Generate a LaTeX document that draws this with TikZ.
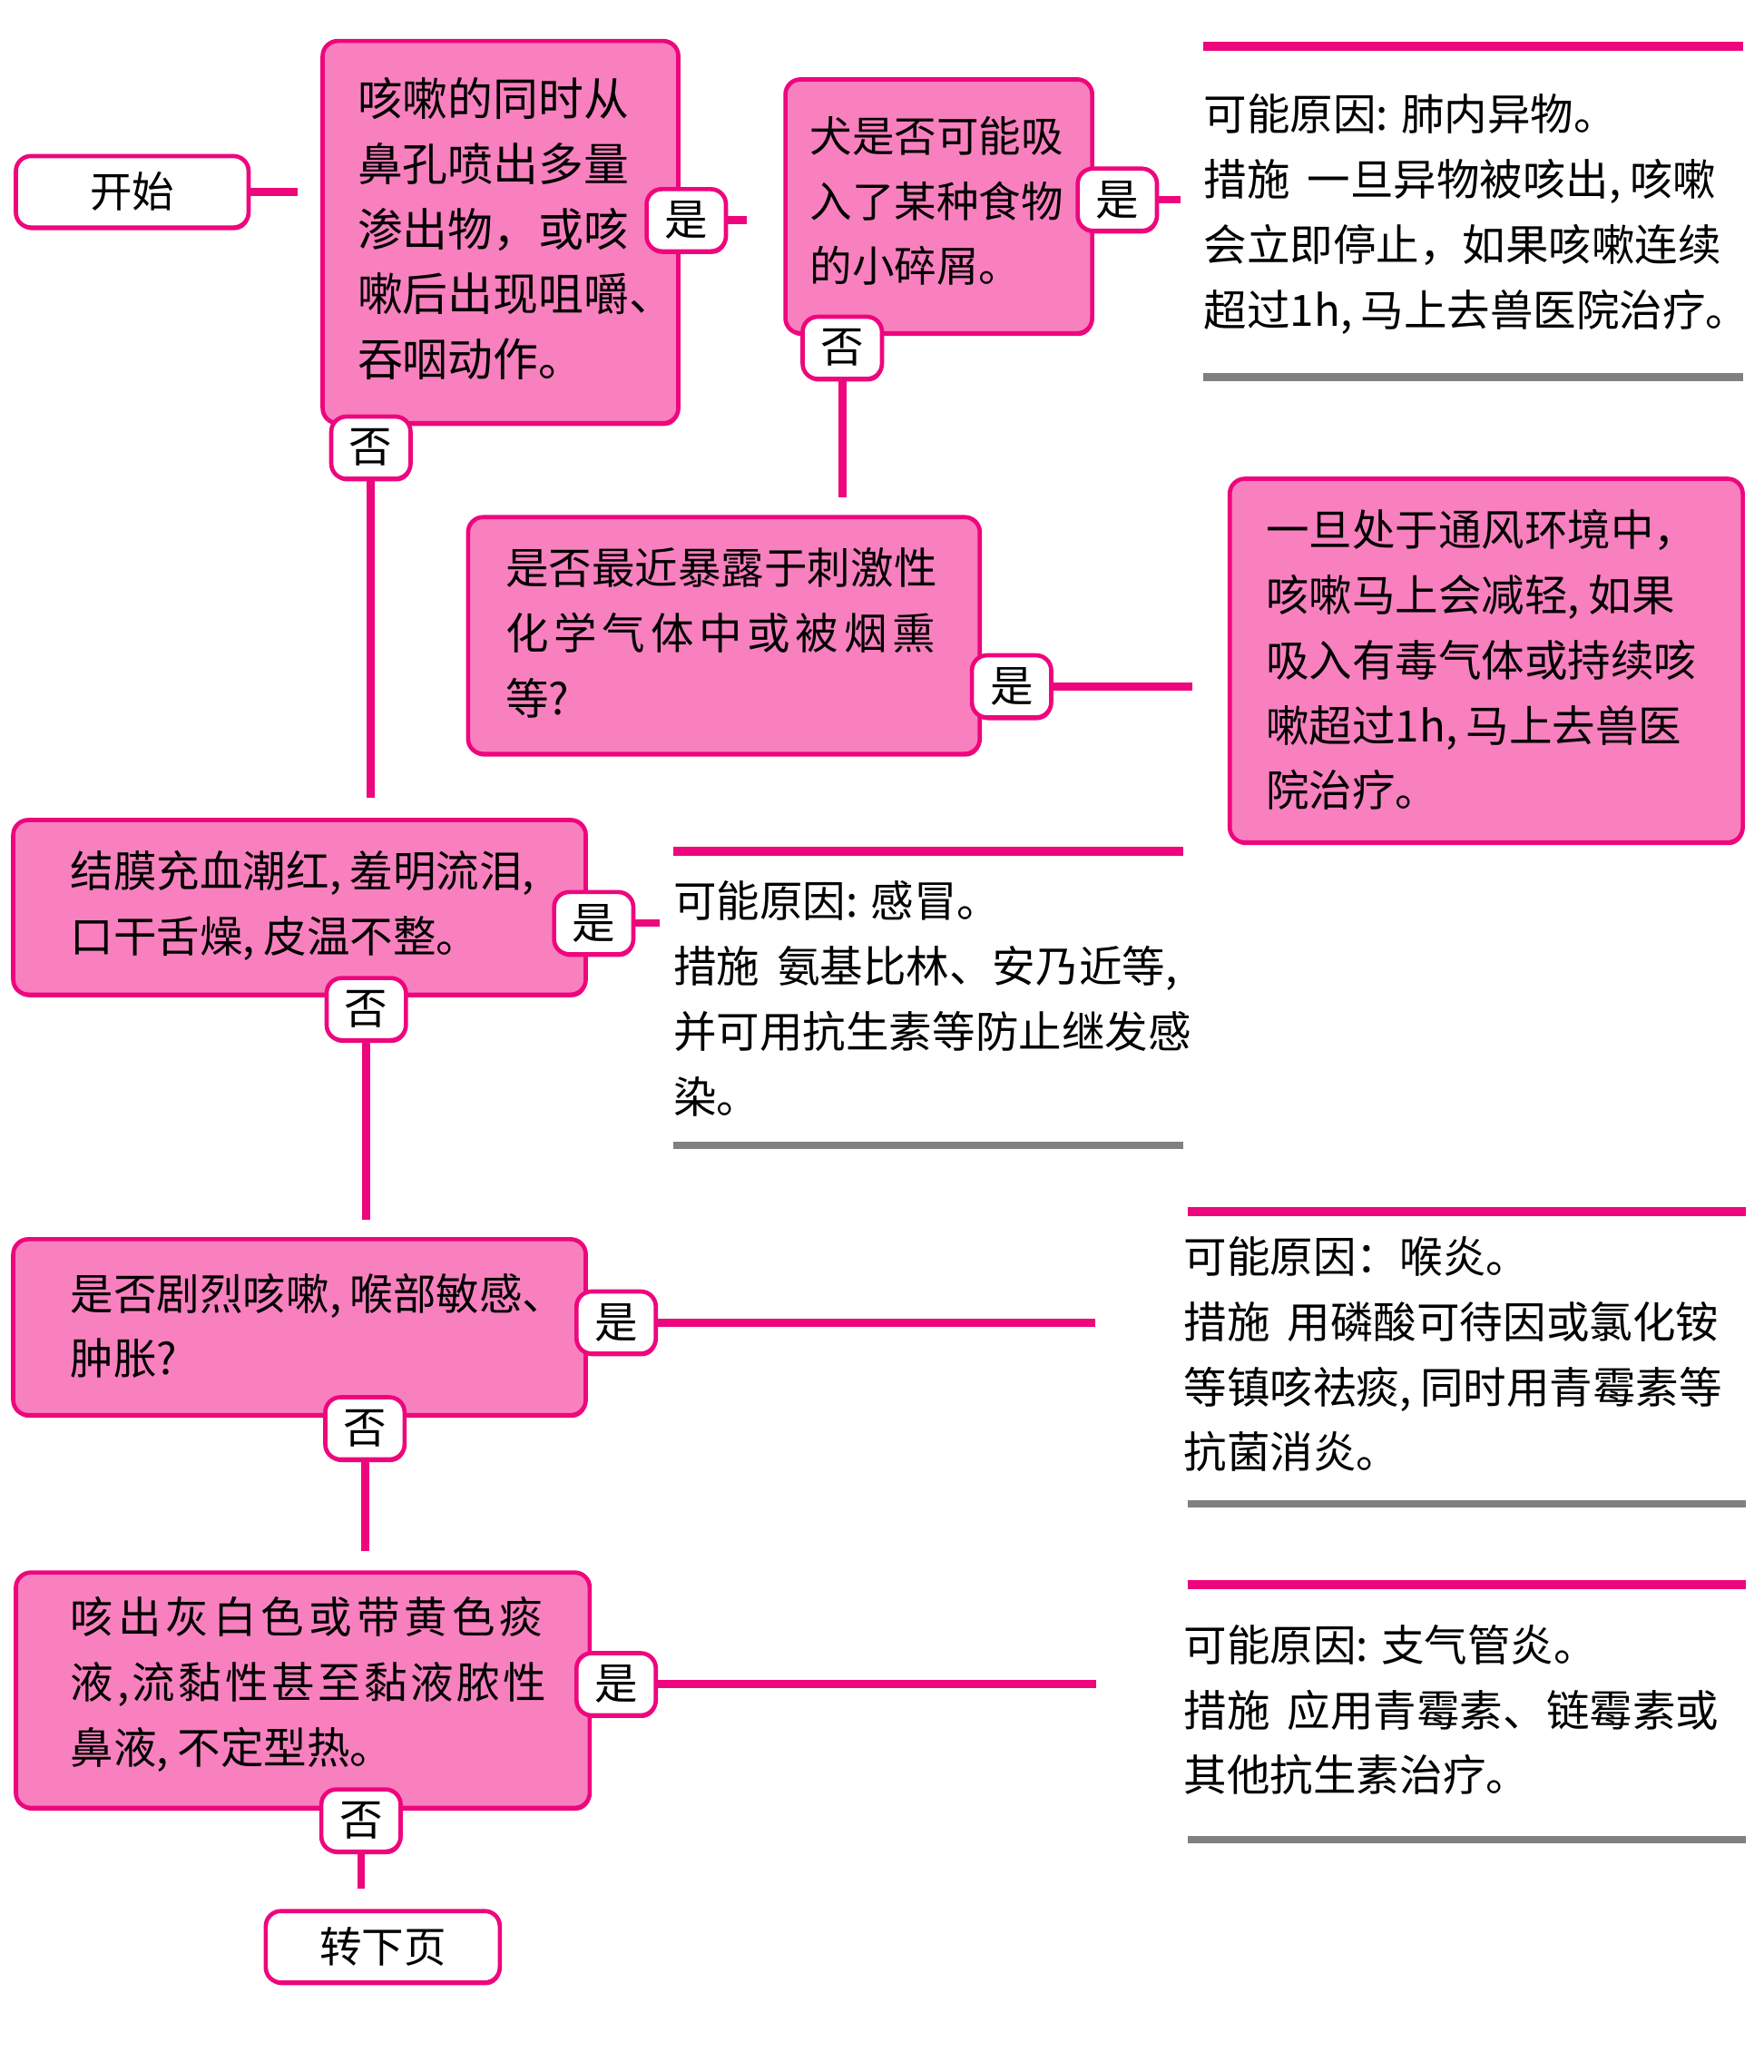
\documentclass[tikz,border=0pt]{standalone}
\usepackage{fontspec}
\setmainfont{Noto Sans CJK SC}
\usetikzlibrary{shadows}
\definecolor{pk}{RGB}{238,6,125}
\definecolor{pkfill}{RGB}{248,128,190}
\definecolor{gr}{RGB}{128,128,128}
\def\U{0.4385pt}
\newdimen\Ud \Ud=0.4385pt
\newcommand\cm{,\kern0.2em}
\makeatletter
\def\jl#1#2{\makebox[#1][s]{\jl@first#2\@nil}}
\def\jl@first#1{#1\jl@}
\def\jl@#1{\ifx#1\@nil\else\hfil#1\expandafter\jl@\fi}
\makeatother
\tikzset{
 qbox/.style={draw=pk, line width=1.4pt, fill=pkfill, rounded corners=5pt, inner sep=0pt,
   drop shadow={shadow xshift=0.3pt, shadow yshift=-0.9pt, fill=pk, opacity=1}},
 wbox/.style={draw=pk, line width=1.4pt, fill=white, rounded corners=5pt, inner sep=0pt,
   drop shadow={shadow xshift=0.3pt, shadow yshift=-0.9pt, fill=pk, opacity=1}},
 lab/.style={wbox, minimum width=26.3pt, minimum height=20.6pt, font=\fontsize{14.3}{16}\selectfont},
 txt/.style={anchor=west, align=left, inner sep=0pt, font=\fontsize{14.3}{21.6}\selectfont},
 conn/.style={draw=pk, line width=2.6pt},
 rulepk/.style={draw=pk, line width=3pt},
 rulegr/.style={draw=gr, line width=2.6pt},
}
\begin{document}
\begin{tikzpicture}[x=0.4385pt,y=-0.4385pt]
\useasboundingbox (0,0) rectangle (1334,1566.7);
% boxes
\node[wbox, minimum width=176*\U, minimum height=54*\U, font=\fontsize{14}{16}\selectfont] (start) at (100,145) {开始};
\node[qbox, minimum width=269*\U, minimum height=289*\U] (b1) at (378.5,175.5) {};
\node[txt, font=\fontsize{15}{21.6}\selectfont] (t1) at (270,173) {咳嗽的同时从\\鼻孔喷出多量\\渗出物，或咳\\嗽后出现咀嚼、\\吞咽动作。};
\node[qbox, minimum width=232*\U, minimum height=192*\U] (b2) at (710,156) {};
\node[txt, font=\fontsize{14}{21.6}\selectfont] (t2) at (612,152) {犬是否可能吸\\入了某种食物\\的小碎屑。};
\node[qbox, minimum width=387*\U, minimum height=179*\U] (b3) at (547.5,480.5) {};
\node[txt] (t3) at (382,478.5) {是否最近暴露于刺激性\\\jl{325\Ud}{化学气体中或被烟熏}\\等?};
\node[qbox, minimum width=388*\U, minimum height=275*\U] (b4) at (1124,499.5) {};
\node[txt] (t4) at (957,499) {一旦处于通风环境中，\\咳嗽马上会减轻\cm 如果\\吸入有毒气体或持续咳\\嗽超过1h\cm 马上去兽医\\院治疗。};
\node[qbox, minimum width=433*\U, minimum height=132*\U] (b5) at (226.5,686) {};
\node[txt] (t5) at (53,685) {结膜充血潮红\cm 羞明流泪,\\口干舌燥\cm 皮温不整。};
\node[qbox, minimum width=433*\U, minimum height=133*\U] (b6) at (226.5,1003.5) {};
\node[txt] (t6) at (53,1002.5) {是否剧烈咳嗽\cm 喉部敏感、\\肿胀?};
\node[qbox, minimum width=434*\U, minimum height=178*\U] (b7) at (229,1278) {};
\node[txt] (t7) at (53,1273.5) {\jl{357\Ud}{咳出灰白色或带黄色痰}\\\jl{360\Ud}{液{,}流黏性甚至黏液脓性}\\鼻液\cm 不定型热。};
\node[wbox, minimum width=177*\U, minimum height=54*\U, font=\fontsize{14}{16}\selectfont] (end) at (289.5,1472) {转下页};
% result texts
\node[txt] (r1) at (910,162) {可能原因: 肺内异物。\\措施\hspace{0.4em}一旦异物被咳出\cm 咳嗽\\会立即停止，如果咳嗽连续\\超过1h\cm 马上去兽医院治疗。};
\draw[rulepk] (910,35) -- (1318,35);
\draw[rulegr] (910,285) -- (1318,285);
\node[txt] (r2) at (509,755) {可能原因: 感冒。\\措施\hspace{0.4em}氨基比林、安乃近等,\\并可用抗生素等防止继发感\\染。};
\draw[rulepk] (509,644) -- (895,644);
\draw[rulegr] (509,866) -- (895,866);
\node[txt] (r3) at (895,1024) {可能原因：喉炎。\\措施\hspace{0.4em}用磷酸可待因或氯化铵\\等镇咳祛痰\cm 同时用青霉素等\\抗菌消炎。};
\draw[rulepk] (898,916) -- (1320,916);
\draw[rulegr] (898,1137) -- (1320,1137);
\node[txt] (r4) at (895,1293) {可能原因: 支气管炎。\\措施\hspace{0.4em}应用青霉素、链霉素或\\其他抗生素治疗。};
\draw[rulepk] (898,1198) -- (1320,1198);
\draw[rulegr] (898,1391) -- (1320,1391);
% labels
\node[lab] (l1y) at (519,166.5) {是};
\node[lab] (l1n) at (280.5,338.5) {否};
\node[lab] (l2y) at (845,151) {是};
\node[lab] (l2n) at (637,263) {否};
\node[lab] (l3y) at (765,519) {是};
\node[lab] (l5y) at (449,698) {是};
\node[lab] (l5n) at (277,763) {否};
\node[lab] (l6y) at (466,1000) {是};
\node[lab] (l6n) at (276,1080) {否};
\node[lab] (l7y) at (466,1273.5) {是};
\node[lab] (l7n) at (273,1376.5) {否};
% connector ends
\coordinate (c0) at (225,145);
\coordinate (c1y) at (565,166.5);
\coordinate (c1n) at (280.5,603);
\coordinate (c2y) at (893,151);
\coordinate (c2n) at (637,376);
\coordinate (c3y) at (902,519);
\coordinate (c5y) at (499,698);
\coordinate (c5n) at (277,922);
\coordinate (c6y) at (828,1000);
\coordinate (c6n) at (276,1173);
\coordinate (c7y) at (829,1273.5);
\coordinate (c7n) at (273,1428);
% connectors
\draw[conn] (start) -- (c0);
\draw[conn] (l1y) -- (c1y);
\draw[conn] (l1n) -- (c1n);
\draw[conn] (l2y) -- (c2y);
\draw[conn] (l2n) -- (c2n);
\draw[conn] (l3y) -- (c3y);
\draw[conn] (l5y) -- (c5y);
\draw[conn] (l5n) -- (c5n);
\draw[conn] (l6y) -- (c6y);
\draw[conn] (l6n) -- (c6n);
\draw[conn] (l7y) -- (c7y);
\draw[conn] (l7n) -- (c7n);
\end{tikzpicture}
\end{document}
